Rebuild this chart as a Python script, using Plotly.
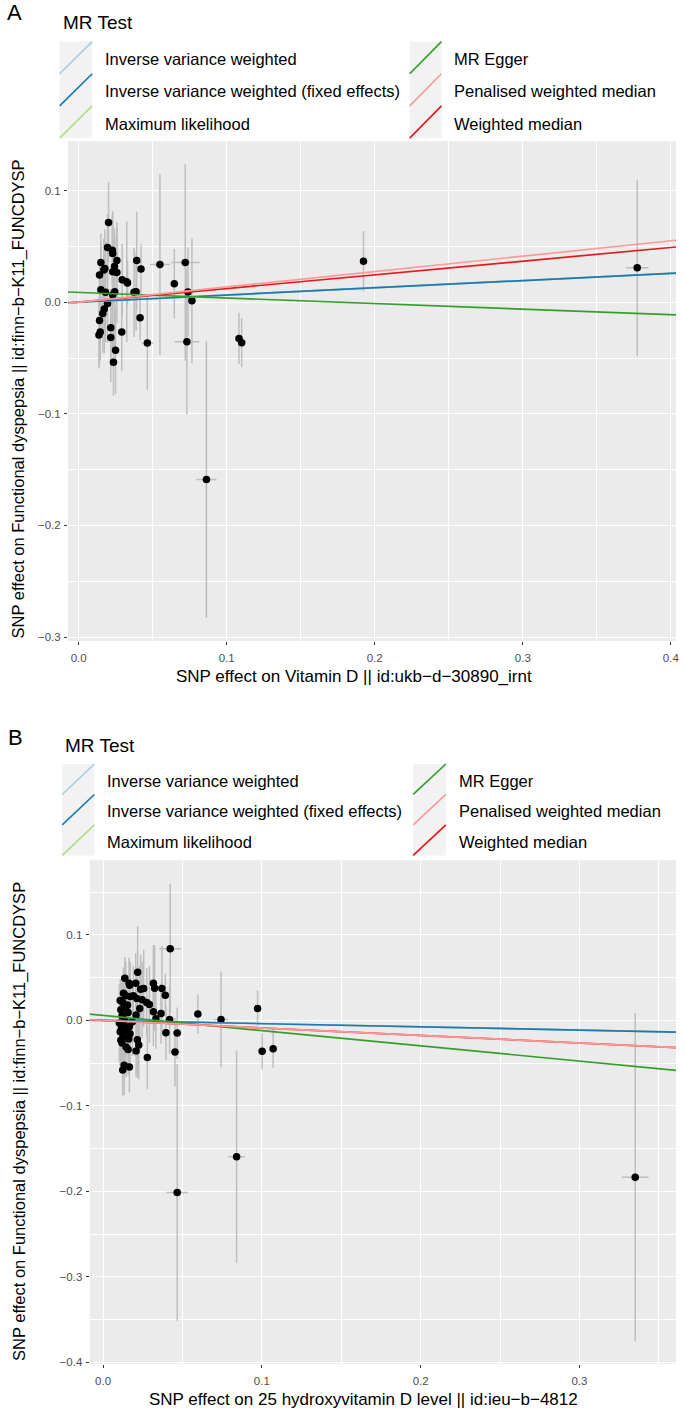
import plotly.graph_objects as go

W, H = 685, 1420
FONT = "Liberation Sans, Arial, Helvetica, sans-serif"

# ---------------- Data: panel A ----------------
a_x = [0.0202, 0.0195, 0.0227, 0.0230, 0.0150, 0.0258, 0.0392, 0.0549, 0.0720, 0.0177,
       0.0242, 0.0170, 0.0421, 0.0141, 0.0230, 0.0258, 0.0294, 0.0325, 0.0330, 0.0646,
       0.0150, 0.0182, 0.0244, 0.0374, 0.0388, 0.0738, 0.0230, 0.0765, 0.0195, 0.0173,
       0.0163, 0.0141, 0.0415, 0.0217, 0.0146, 0.0137, 0.0291, 0.0217, 0.1083, 0.1101,
       0.0731, 0.0464, 0.0249, 0.0235, 0.0863, 0.1924, 0.3773]
a_y = [0.0715, 0.0490, 0.0466, 0.0436, 0.0356, 0.0374, 0.0374, 0.0338, 0.0356, 0.0303,
       0.0320, 0.0288, 0.0297, 0.0243, 0.0273, 0.0267, 0.0201, 0.0183, 0.0172, 0.0166,
       0.0112, 0.0089, 0.0094, 0.0089, 0.0094, 0.0092, 0.0065, 0.0014, -0.0012, -0.0060,
       -0.0101, -0.0164, -0.0140, -0.0229, -0.0267, -0.0294, -0.0267, -0.0315, -0.0324, -0.0362,
       -0.0354, -0.0365, -0.0431, -0.0538, -0.1589, 0.0368, 0.0308]
a_se_x = [0.0015, 0.0015, 0.0015, 0.0015, 0.0012, 0.0015, 0.0020, 0.0067, 0.0097, 0.0012,
          0.0015, 0.0012, 0.0020, 0.0010, 0.0015, 0.0015, 0.0015, 0.0015, 0.0015, 0.0020,
          0.0010, 0.0012, 0.0015, 0.0020, 0.0020, 0.0020, 0.0015, 0.0030, 0.0012, 0.0012,
          0.0012, 0.0010, 0.0020, 0.0015, 0.0010, 0.0010, 0.0015, 0.0015, 0.0020, 0.0020,
          0.0083, 0.0040, 0.0015, 0.0015, 0.0068, 0.0020, 0.0076]
a_se_y = [0.036, 0.030, 0.032, 0.038, 0.026, 0.030, 0.044, 0.081, 0.088, 0.035,
          0.034, 0.028, 0.022, 0.010, 0.050, 0.045, 0.032, 0.054, 0.020, 0.031,
          0.040, 0.045, 0.050, 0.040, 0.035, 0.040, 0.050, 0.056, 0.035, 0.040,
          0.035, 0.040, 0.020, 0.035, 0.025, 0.030, 0.035, 0.040, 0.023, 0.022,
          0.065, 0.042, 0.039, 0.030, 0.124, 0.027, 0.079]

# ---------------- Data: panel B ----------------
b_x = [0.0423, 0.0137, 0.0218, 0.0164, 0.0168, 0.0206, 0.0317, 0.0325, 0.0371, 0.0237,
       0.0256, 0.0392, 0.0129, 0.0143, 0.0172, 0.0191, 0.0212, 0.0108, 0.0124, 0.0246,
       0.0275, 0.0292, 0.0154, 0.0231, 0.0112, 0.0141, 0.0158, 0.0317, 0.0365, 0.0597,
       0.0973, 0.0208, 0.0120, 0.0333, 0.0419, 0.0743, 0.0137, 0.0185, 0.0103, 0.0129,
       0.0166, 0.0116, 0.0141, 0.0108, 0.0396, 0.0467, 0.0170, 0.0127, 0.0162, 0.0112,
       0.0216, 0.0120, 0.0225, 0.0145, 0.0158, 0.0208, 0.0453, 0.1002, 0.1071, 0.0279,
       0.0133, 0.0166, 0.0124, 0.0467, 0.0841, 0.3351]
b_y = [0.0838, 0.0493, 0.0563, 0.0435, 0.0411, 0.0435, 0.0435, 0.0376, 0.0373, 0.0365,
       0.0373, 0.0295, 0.0318, 0.0287, 0.0279, 0.0287, 0.0256, 0.0233, 0.0210, 0.0241,
       0.0210, 0.0186, 0.0179, 0.0140, 0.0124, 0.0140, 0.0093, 0.0101, 0.0081, 0.0074,
       0.0140, 0.0062, 0.0054, 0.0019, 0.0011, 0.0011, 0.0008, -0.0016, -0.0031, -0.0054,
       -0.0070, -0.0093, -0.0124, -0.0132, -0.0144, -0.0148, -0.0155, -0.0186, -0.0217, -0.0233,
       -0.0225, -0.0264, -0.0287, -0.0311, -0.0341, -0.0357, -0.0369, -0.0361, -0.0330, -0.0434,
       -0.0524, -0.0544, -0.0579, -0.2014, -0.1595, -0.1833]
b_se_x = [0.0069, 0.0010, 0.0015, 0.0010, 0.0010, 0.0015, 0.0015, 0.0015, 0.0020, 0.0015,
          0.0015, 0.0020, 0.0010, 0.0010, 0.0010, 0.0012, 0.0012, 0.0010, 0.0010, 0.0015,
          0.0015, 0.0015, 0.0010, 0.0015, 0.0010, 0.0010, 0.0010, 0.0015, 0.0020, 0.0020,
          0.0020, 0.0012, 0.0010, 0.0015, 0.0025, 0.0045, 0.0010, 0.0012, 0.0010, 0.0010,
          0.0010, 0.0010, 0.0010, 0.0010, 0.0020, 0.0025, 0.0010, 0.0010, 0.0010, 0.0010,
          0.0015, 0.0010, 0.0015, 0.0010, 0.0010, 0.0012, 0.0030, 0.0020, 0.0020, 0.0025,
          0.0010, 0.0010, 0.0010, 0.0068, 0.0052, 0.0084]
b_se_y = [0.076, 0.025, 0.054, 0.030, 0.028, 0.035, 0.045, 0.050, 0.050, 0.040,
          0.045, 0.025, 0.030, 0.040, 0.040, 0.035, 0.035, 0.025, 0.030, 0.045,
          0.040, 0.045, 0.035, 0.050, 0.035, 0.035, 0.045, 0.040, 0.035, 0.023,
          0.021, 0.040, 0.040, 0.035, 0.040, 0.056, 0.045, 0.040, 0.045, 0.040,
          0.035, 0.040, 0.030, 0.040, 0.032, 0.030, 0.035, 0.040, 0.040, 0.030,
          0.045, 0.035, 0.040, 0.035, 0.030, 0.030, 0.040, 0.021, 0.0225, 0.037,
          0.035, 0.030, 0.030, 0.150, 0.124, 0.192]

# ---------------- MR methods ----------------
methods = ["Inverse variance weighted", "Inverse variance weighted (fixed effects)",
           "Maximum likelihood", "MR Egger", "Penalised weighted median", "Weighted median"]
method_colors = ["#A6CEE3", "#1F78B4", "#B2DF8A", "#33A02C", "#FB9A99", "#E31A1C"]
a_slopes = [0.0647, 0.0647, 0.0647, -0.0499, 0.1376, 0.1227]
a_intercepts = [0.0, 0.0, 0.0, 0.0088, 0.0, 0.0]
b_slopes = [-0.0377, -0.0377, -0.0377, -0.1783, -0.088, -0.088]
b_intercepts = [0.0, 0.0, 0.0, 0.0059, 0.0, 0.0]

a_xlabel = "SNP effect on Vitamin D || id:ukb\u2212d\u221230890_irnt"
b_xlabel = "SNP effect on 25 hydroxyvitamin D level || id:ieu\u2212b\u22124812"
ylabel = "SNP effect on Functional dyspepsia || id:finn\u2212b\u2212K11_FUNCDYSP"

# ---------------- Layout geometry (pixels) ----------------
def fx(px):
    return px / W

def fy(py):
    return 1 - py / H

A_box = (68.3, 679.0, 141.7, 643.3)   # left, right, top, bottom
B_box = (90.0, 679.0, 863.3, 1368.7)
A_xrange = [-0.0072, 0.4035]
A_yrange = [-0.3036, 0.1443]
B_xrange = [-0.00846, 0.3608]
B_yrange = [-0.4017, 0.1873]

fig = go.Figure()

GRID = "white"
PANEL = "#EBEBEB"


def add_panel(xs, ys, sx, sy, slopes, intercepts, xr, xaxis, yaxis):
    fig.add_trace(go.Scatter(
        x=xs, y=ys, mode="markers", xaxis=xaxis, yaxis=yaxis,
        marker=dict(color="black", size=7.5, line=dict(width=0)),
        error_x=dict(type="data", array=sx, visible=True, color="#BEBEBE", thickness=1.5, width=0),
        error_y=dict(type="data", array=sy, visible=True, color="#BEBEBE", thickness=1.5, width=0),
        showlegend=False, hoverinfo="x+y"))
    for i in [2, 0, 1, 3, 5, 4]:
        x0, x1 = xr
        fig.add_trace(go.Scatter(
            x=[x0, x1], y=[intercepts[i] + slopes[i] * x0, intercepts[i] + slopes[i] * x1],
            mode="lines", xaxis=xaxis, yaxis=yaxis, name=methods[i],
            line=dict(color=method_colors[i], width=1.7), showlegend=False, hoverinfo="name"))


add_panel(a_x, a_y, a_se_x, a_se_y, a_slopes, a_intercepts, A_xrange, "x", "y")
add_panel(b_x, b_y, b_se_x, b_se_y, b_slopes, b_intercepts, B_xrange, "x2", "y2")

tickfont = dict(family=FONT, size=11.5, color="#4D4D4D")


def axis(domain, rng, dtick, anchor, standoff):
    return dict(domain=domain, range=rng, anchor=anchor, dtick=dtick, tick0=0,
                tickformat=".1f", showgrid=True, gridcolor=GRID, gridwidth=1.4,
                zeroline=False, showline=False, ticks="outside", ticklen=3,
                tickcolor="#333333", tickwidth=1, tickfont=tickfont,
                ticklabelstandoff=standoff,
                minor=dict(dtick=dtick / 2, tick0=0, showgrid=True, gridcolor=GRID,
                           gridwidth=0.6, ticks=""),
                fixedrange=True)


fig.update_layout(
    width=W, height=H, margin=dict(l=0, r=0, t=0, b=0),
    paper_bgcolor="white", plot_bgcolor=PANEL,
    font=dict(family=FONT, color="black"),
    xaxis=axis([fx(A_box[0]), fx(A_box[1])], A_xrange, 0.1, "y", 3),
    yaxis=axis([fy(A_box[3]), fy(A_box[2])], A_yrange, 0.1, "x", 1),
    xaxis2=axis([fx(B_box[0]), fx(B_box[1])], B_xrange, 0.1, "y2", 3),
    yaxis2=axis([fy(B_box[3]), fy(B_box[2])], B_yrange, 0.1, "x2", 1),
    showlegend=False,
)

shapes = []
annotations = []

# ---------------- Manual ggplot-style legends ----------------
legend_layouts = [
    dict(label="A", label_xy=(5, 13), title_xy=(61, 23),
         key_cols=[(59.9, 92.6), (411.5, 443.4)], text_x=[103.5, 454.3],
         rows=[(41.7, 74.0), (74.0, 106.3), (106.3, 138.6)]),
    dict(label="B", label_xy=(6.5, 740), title_xy=(63.3, 748.3),
         key_cols=[(62.5, 94.8), (415.0, 447.8)], text_x=[105.7, 458.7],
         rows=[(766.7, 797.3), (797.3, 827.9), (827.9, 858.5)]),
]

for lg in legend_layouts:
    annotations.append(dict(text=lg["label"], x=fx(lg["label_xy"][0]), y=fy(lg["label_xy"][1]),
                            xref="paper", yref="paper", xanchor="left", yanchor="middle",
                            showarrow=False, font=dict(family=FONT, size=22, color="black")))
    annotations.append(dict(text="MR Test", x=fx(lg["title_xy"][0]), y=fy(lg["title_xy"][1]),
                            xref="paper", yref="paper", xanchor="left", yanchor="middle",
                            showarrow=False, font=dict(family=FONT, size=19, color="black")))
    for i, m in enumerate(methods):
        col, row = divmod(i, 3)
        kx0, kx1 = lg["key_cols"][col]
        ky0, ky1 = lg["rows"][row]
        shapes.append(dict(type="rect", xref="paper", yref="paper",
                           x0=fx(kx0), x1=fx(kx1), y0=fy(ky1), y1=fy(ky0),
                           fillcolor="#F2F2F2", line=dict(width=0), layer="below"))
        shapes.append(dict(type="line", xref="paper", yref="paper",
                           x0=fx(kx0), x1=fx(kx1), y0=fy(ky1), y1=fy(ky0),
                           line=dict(color=method_colors[i], width=1.7)))
        annotations.append(dict(text=m, x=fx(lg["text_x"][col]), y=fy((ky0 + ky1) / 2 + 1.5),
                                xref="paper", yref="paper", xanchor="left", yanchor="middle",
                                showarrow=False, font=dict(family=FONT, size=16.5, color="black")))

# ---------------- Axis titles ----------------
title_font = dict(family=FONT, size=17, color="black")
annotations += [
    dict(text=a_xlabel, x=fx(355.5), y=fy(679), xref="paper", yref="paper",
         xanchor="center", yanchor="middle", showarrow=False, font=title_font),
    dict(text=ylabel, x=fx(19), y=fy(400), xref="paper", yref="paper", textangle=-90,
         xanchor="center", yanchor="middle", showarrow=False,
         font=dict(family=FONT, size=16.5, color="black")),
    dict(text=b_xlabel, x=fx(365), y=fy(1404), xref="paper", yref="paper",
         xanchor="center", yanchor="middle", showarrow=False, font=title_font),
    dict(text=ylabel, x=fx(19), y=fy(1125), xref="paper", yref="paper", textangle=-90,
         xanchor="center", yanchor="middle", showarrow=False,
         font=dict(family=FONT, size=16.5, color="black")),
]

fig.update_layout(shapes=shapes, annotations=annotations)

fig.write_html("out.html", config={"displayModeBar": False},
               post_script="document.body.style.margin='0';document.body.style.overflow='hidden';")
